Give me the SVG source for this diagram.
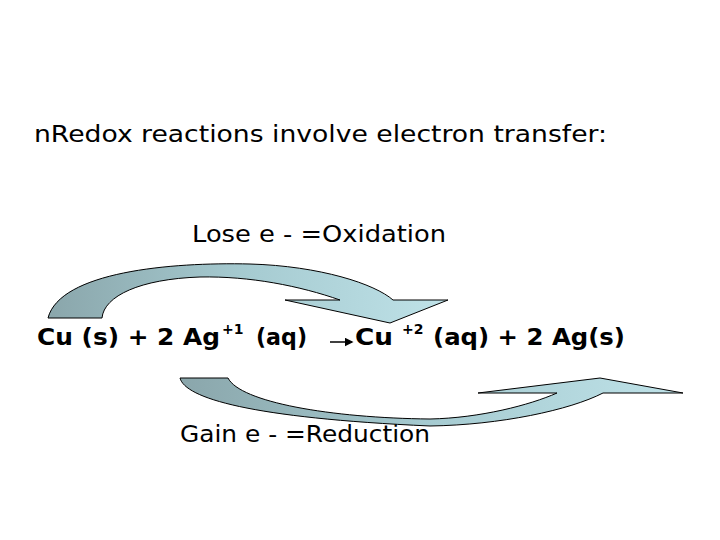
<svg xmlns="http://www.w3.org/2000/svg" width="720" height="540" viewBox="0 0 720 540">
<style>
.t{font-family:"DejaVu Sans",sans-serif;font-size:23px;fill:#000}
.eq{font-family:"DejaVu Sans",sans-serif;font-size:23px;font-weight:bold;fill:#000}
.sup{font-family:"DejaVu Sans",sans-serif;font-size:14px;font-weight:bold;fill:#000}
.arr{stroke:#000;stroke-width:1}
</style>
<defs>
<linearGradient id="g" x1="0" x2="1" y1="0" y2="0">
<stop offset="0" stop-color="#8aa6ab"/><stop offset="0.5" stop-color="#a6cbd1"/><stop offset="1" stop-color="#bfe2e8"/>
</linearGradient>
<marker id="m" markerWidth="6" markerHeight="6" refX="5" refY="3" orient="auto"><path d="M0,0 L6,3 L0,6 Z" fill="#000"/></marker>
</defs>
<rect width="720" height="540" fill="#fff"/>
<g id="title"><text class="t" x="34" y="142" textLength="573" lengthAdjust="spacingAndGlyphs">nRedox reactions involve electron transfer:</text></g>
<g id="oxidation"><text class="t" x="192" y="242" textLength="254" lengthAdjust="spacingAndGlyphs">Lose e - =Oxidation</text></g>
<g id="reduction"><text class="t" x="180" y="442" textLength="250" lengthAdjust="spacingAndGlyphs">Gain e - =Reduction</text></g>
<g id="equation">
<text class="eq" x="37" y="345" textLength="183" lengthAdjust="spacingAndGlyphs">Cu (s) + 2 Ag</text>
<text class="sup" x="222" y="334">+1</text>
<text class="eq" x="256" y="345" textLength="51" lengthAdjust="spacingAndGlyphs">(aq)</text>
<text class="eq" x="355" y="345" textLength="38" lengthAdjust="spacingAndGlyphs">Cu</text>
<text class="sup" x="402" y="334">+2</text>
<text class="eq" x="433" y="345" textLength="192" lengthAdjust="spacingAndGlyphs">(aq) + 2 Ag(s)</text>
</g>
<g id="connectors">
<path class="arr" fill="url(#g)" d="M48,318 C60,272 170,262 250,264 C320,266 375,284 393,300 L448,300 L390,323 L285,300 L340,300 C300,286 250,276 200,277 C140,279 104,296 102,318 Z"/>
<path class="arr" fill="url(#g)" d="M180,378 C185,398 250,418 430,426 C500,425 570,410 603,393 L683,393 L600,378 L478,393 L557,393 C530,405 480,418 430,419 C330,418 240,402 228,378 Z"/>
<line x1="330" y1="342" x2="352" y2="342" stroke="#000" stroke-width="1.5" marker-end="url(#m)"/>
</g>
</svg>
